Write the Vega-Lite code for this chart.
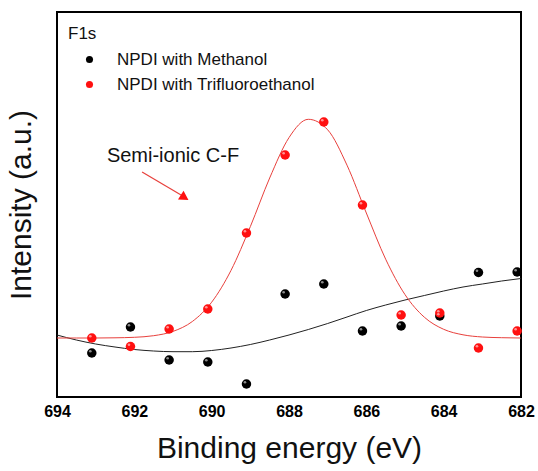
{
  "$schema": "https://vega.github.io/schema/vega-lite/v6.json",
  "width": 464,
  "height": 385,
  "autosize": "none",
  "padding": {"left": 57, "top": 12, "right": 17, "bottom": 74},
  "config": {
    "font": "Liberation Sans",
    "view": {"stroke": "black", "strokeWidth": 2},
    "background": "white"
  },
  "datasets": {
    "pts": [
      {"e": 693.1, "i": 44, "s": "NPDI with Methanol"},
      {"e": 692.1, "i": 70, "s": "NPDI with Methanol"},
      {"e": 691.1, "i": 37, "s": "NPDI with Methanol"},
      {"e": 690.1, "i": 35, "s": "NPDI with Methanol"},
      {"e": 689.1, "i": 13, "s": "NPDI with Methanol"},
      {"e": 688.1, "i": 103, "s": "NPDI with Methanol"},
      {"e": 687.1, "i": 113, "s": "NPDI with Methanol"},
      {"e": 686.1, "i": 66, "s": "NPDI with Methanol"},
      {"e": 685.1, "i": 71, "s": "NPDI with Methanol"},
      {"e": 684.1, "i": 81, "s": "NPDI with Methanol"},
      {"e": 683.1, "i": 124.5, "s": "NPDI with Methanol"},
      {"e": 682.1, "i": 125, "s": "NPDI with Methanol"},
      {"e": 693.1, "i": 59, "s": "NPDI with Trifluoroethanol"},
      {"e": 692.1, "i": 50.5, "s": "NPDI with Trifluoroethanol"},
      {"e": 691.1, "i": 68, "s": "NPDI with Trifluoroethanol"},
      {"e": 690.1, "i": 88, "s": "NPDI with Trifluoroethanol"},
      {"e": 689.1, "i": 164, "s": "NPDI with Trifluoroethanol"},
      {"e": 688.1, "i": 242, "s": "NPDI with Trifluoroethanol"},
      {"e": 687.1, "i": 275, "s": "NPDI with Trifluoroethanol"},
      {"e": 686.1, "i": 192, "s": "NPDI with Trifluoroethanol"},
      {"e": 685.1, "i": 82, "s": "NPDI with Trifluoroethanol"},
      {"e": 684.1, "i": 84, "s": "NPDI with Trifluoroethanol"},
      {"e": 683.1, "i": 49, "s": "NPDI with Trifluoroethanol"},
      {"e": 682.1, "i": 66, "s": "NPDI with Trifluoroethanol"}
    ],
    "fitBlack": [
      {"e": 694, "i": 62}, {"e": 693.5, "i": 57}, {"e": 693, "i": 53}, {"e": 692.5, "i": 50},
      {"e": 692, "i": 47.5}, {"e": 691.5, "i": 46}, {"e": 691, "i": 45.3}, {"e": 690.5, "i": 45.3},
      {"e": 690, "i": 46.5}, {"e": 689.5, "i": 49}, {"e": 689, "i": 52.5}, {"e": 688.5, "i": 57},
      {"e": 688, "i": 62}, {"e": 687.5, "i": 67.5}, {"e": 687, "i": 73.5}, {"e": 686.5, "i": 80},
      {"e": 686, "i": 86.5}, {"e": 685.5, "i": 92}, {"e": 685, "i": 97}, {"e": 684.5, "i": 101.5},
      {"e": 684, "i": 106}, {"e": 683.5, "i": 110}, {"e": 683, "i": 113}, {"e": 682.5, "i": 116},
      {"e": 682, "i": 118.5}
    ],
    "fitRed": [
      {"e": 694, "i": 59}, {"e": 693.5, "i": 59}, {"e": 693, "i": 59}, {"e": 692.5, "i": 59.2},
      {"e": 692, "i": 59.7}, {"e": 691.5, "i": 61.3}, {"e": 691, "i": 65.6}, {"e": 690.5, "i": 75.5},
      {"e": 690, "i": 94.8}, {"e": 689.5, "i": 126.6}, {"e": 689, "i": 170.4}, {"e": 688.5, "i": 219},
      {"e": 688, "i": 259.4}, {"e": 687.5, "i": 277.7}, {"e": 687, "i": 267.2}, {"e": 686.5, "i": 231.8},
      {"e": 686, "i": 184}, {"e": 685.5, "i": 137.8}, {"e": 685, "i": 102.4}, {"e": 684.5, "i": 79.8},
      {"e": 684, "i": 67.7}, {"e": 683.5, "i": 62.2}, {"e": 683, "i": 60}, {"e": 682.5, "i": 59.3},
      {"e": 682, "i": 59}
    ],
    "majorTicks": [{"e": 684}, {"e": 686}, {"e": 688}, {"e": 690}, {"e": 692}],
    "minorTicks": [{"e": 683}, {"e": 685}, {"e": 687}, {"e": 689}, {"e": 691}, {"e": 693}],
    "arrow": [{"e": 691.8, "i": 225, "e2": 690.66, "i2": 199}],
    "head": [{"e": 690.7, "i": 199.5}],
    "label": [{"e": 691.0, "i": 241, "t": "Semi-ionic C-F"}]
  },
  "encoding": {
    "x": {
      "field": "e", "type": "quantitative",
      "scale": {"domain": [682, 694], "reverse": true, "nice": false, "zero": false},
      "axis": {
        "values": [682, 684, 686, 688, 690, 692, 694],
        "format": "d", "grid": false, "domain": false, "ticks": false,
        "labelFlush": false, "labelLimit": 200,
        "labelFont": "Liberation Sans", "labelFontWeight": "bold", "labelFontSize": 16,
        "labelColor": "black", "labelPadding": 6,
        "title": "Binding energy (eV)",
        "titleFont": "Liberation Sans", "titleFontWeight": "normal", "titleFontSize": 30,
        "titleColor": "#111", "titlePadding": 14
      }
    },
    "y": {
      "field": "i", "type": "quantitative",
      "scale": {"domain": [0, 385], "nice": false, "zero": false},
      "axis": {
        "labels": false, "ticks": false, "domain": false, "grid": false,
        "title": "Intensity (a.u.)",
        "titleFont": "Liberation Sans", "titleFontWeight": "normal", "titleFontSize": 30,
        "titleColor": "#111", "titlePadding": 21
      }
    }
  },
  "layer": [
    {
      "data": {"name": "majorTicks"},
      "mark": {"type": "rule", "color": "#000000", "strokeWidth": 2},
      "encoding": {"y": {"datum": 0}, "y2": {"datum": 7}}
    },
    {
      "data": {"name": "minorTicks"},
      "mark": {"type": "rule", "color": "#000000", "strokeWidth": 2},
      "encoding": {"y": {"datum": 0}, "y2": {"datum": 4}}
    },
    {
      "data": {"name": "fitBlack"},
      "mark": {"type": "line", "color": "#222222", "strokeWidth": 1, "interpolate": "monotone", "clip": true}
    },
    {
      "data": {"name": "fitRed"},
      "mark": {"type": "line", "color": "#e8403c", "strokeWidth": 1, "interpolate": "monotone", "clip": true}
    },
    {
      "data": {"name": "pts"},
      "mark": {"type": "point", "filled": true, "size": 90, "opacity": 1},
      "encoding": {
        "color": {
          "field": "s", "type": "nominal",
          "scale": {"domain": ["NPDI with Methanol", "NPDI with Trifluoroethanol"], "range": ["#000000", "#ff1010"]},
          "legend": {
            "orient": "none", "legendX": 11, "legendY": 14, "padding": 0,
            "title": "F1s", "titleFont": "Liberation Sans", "titleFontWeight": "normal", "titleFontSize": 17,
            "titleColor": "#111", "titlePadding": 8, "labelLimit": 400,
            "labelFont": "Liberation Sans", "labelFontSize": 17, "labelColor": "#111",
            "symbolSize": 50, "symbolType": "circle", "symbolOffset": 13, "labelOffset": 19,
            "rowPadding": 7, "symbolStrokeWidth": 0
          }
        }
      }
    },
    {
      "data": {"name": "pts"},
      "mark": {"type": "point", "filled": true, "size": 7, "color": "#ffffff", "opacity": 0.55, "xOffset": -1.5, "yOffset": -1.8}
    },
    {
      "data": {"name": "arrow"},
      "mark": {"type": "rule", "color": "#e8403c", "strokeWidth": 1.2},
      "encoding": {"x2": {"field": "e2"}, "y2": {"field": "i2"}}
    },
    {
      "data": {"name": "head"},
      "mark": {"type": "point", "shape": "triangle-up", "filled": true, "color": "#ff1010", "size": 110, "angle": 122, "opacity": 1}
    },
    {
      "data": {"name": "label"},
      "mark": {"type": "text", "font": "Liberation Sans", "fontSize": 20, "color": "#111", "align": "center", "baseline": "middle"},
      "encoding": {"text": {"field": "t"}}
    }
  ]
}
